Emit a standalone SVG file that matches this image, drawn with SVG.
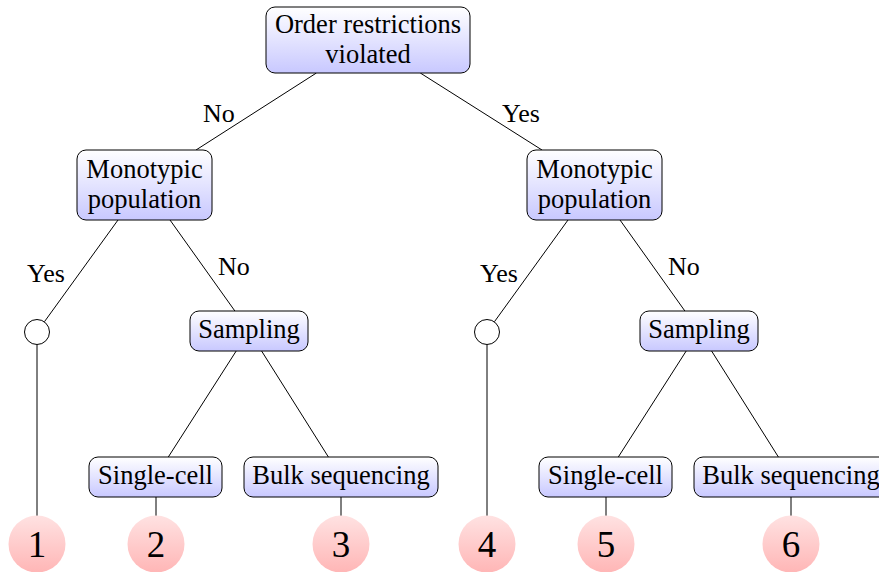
<svg xmlns="http://www.w3.org/2000/svg" width="879" height="572" viewBox="0 0 879 572">
<defs>
<linearGradient id="gb" x1="0" y1="0" x2="0" y2="1"><stop offset="0" stop-color="#ffffff"/><stop offset="1" stop-color="#c8c8ff"/></linearGradient>
<linearGradient id="gr" x1="0" y1="0" x2="0" y2="1"><stop offset="0" stop-color="#ffe2e2"/><stop offset="1" stop-color="#ffb6b6"/></linearGradient>
</defs>
<style>
.box{fill:url(#gb);stroke:#000;stroke-width:1}
.leaf{fill:url(#gr);stroke:none}
.t{font-family:"Liberation Serif",serif;font-size:26.5px;fill:#000;text-anchor:middle}
.n{font-family:"Liberation Serif",serif;font-size:37px;fill:#000;text-anchor:middle}
.l{font-family:"Liberation Serif",serif;font-size:26px;fill:#000}
.e{stroke:#000;stroke-width:1;fill:none}
</style>
<rect width="879" height="572" fill="#fff"/>
<g id="connectors">
<line class="e" x1="316.4" y1="73" x2="196" y2="150"/>
<line class="e" x1="420.3" y1="73" x2="542" y2="150"/>
<line class="e" x1="118" y1="220" x2="44.3" y2="321.9"/>
<line class="e" x1="170" y1="220" x2="234.9" y2="311"/>
<line class="e" x1="236.2" y1="351" x2="168.3" y2="457"/>
<line class="e" x1="261.6" y1="351" x2="328.4" y2="457"/>
<line class="e" x1="37" y1="344.5" x2="37" y2="516"/>
<line class="e" x1="156" y1="497" x2="156" y2="516"/>
<line class="e" x1="341" y1="497" x2="341" y2="516"/>
<line class="e" x1="568" y1="220" x2="494.3" y2="321.9"/>
<line class="e" x1="620" y1="220" x2="684.9" y2="311"/>
<line class="e" x1="686.2" y1="351" x2="618.3" y2="457"/>
<line class="e" x1="711.6" y1="351" x2="778.4" y2="457"/>
<line class="e" x1="487" y1="344.5" x2="487" y2="516"/>
<line class="e" x1="606" y1="497" x2="606" y2="516"/>
<line class="e" x1="791" y1="497" x2="791" y2="516"/>
<text class="l" x="203" y="122">No</text>
<text class="l" x="502" y="122">Yes</text>
<text class="l" x="27" y="282">Yes</text>
<text class="l" x="218" y="275">No</text>
<text class="l" x="480" y="282">Yes</text>
<text class="l" x="668" y="275">No</text>
</g>
<g id="root"><rect class="box" x="266" y="7" width="204" height="66" rx="9"/><text class="t" x="368" y="33">Order restrictions</text><text class="t" x="368" y="63">violated</text></g>
<g id="mono-left"><rect class="box" x="77" y="150" width="135" height="70" rx="9"/><text class="t" x="144.5" y="178">Monotypic</text><text class="t" x="144.5" y="208">population</text></g>
<g id="mono-right"><rect class="box" x="527" y="150" width="135" height="70" rx="9"/><text class="t" x="594.5" y="178">Monotypic</text><text class="t" x="594.5" y="208">population</text></g>
<g id="yes-left"><circle cx="37" cy="332" r="12.5" fill="#fff" stroke="#000" stroke-width="1"/></g>
<g id="yes-right"><circle cx="487" cy="332" r="12.5" fill="#fff" stroke="#000" stroke-width="1"/></g>
<g id="sampling-left"><rect class="box" x="190" y="311" width="118" height="40" rx="9"/><text class="t" x="249" y="338">Sampling</text></g>
<g id="sampling-right"><rect class="box" x="640" y="311" width="118" height="40" rx="9"/><text class="t" x="699" y="338">Sampling</text></g>
<g id="single-left"><rect class="box" x="89" y="457" width="133" height="40" rx="9"/><text class="t" x="155.5" y="484">Single-cell</text></g>
<g id="bulk-left"><rect class="box" x="244" y="457" width="194" height="40" rx="9"/><text class="t" x="341" y="484">Bulk sequencing</text></g>
<g id="single-right"><rect class="box" x="539" y="457" width="133" height="40" rx="9"/><text class="t" x="605.5" y="484">Single-cell</text></g>
<g id="bulk-right"><rect class="box" x="694" y="457" width="194" height="40" rx="9"/><text class="t" x="791" y="484">Bulk sequencing</text></g>
<g id="leaf1"><circle class="leaf" cx="37" cy="544" r="28.5"/><text class="n" x="37" y="557">1</text></g>
<g id="leaf2"><circle class="leaf" cx="156" cy="544" r="28.5"/><text class="n" x="156" y="557">2</text></g>
<g id="leaf3"><circle class="leaf" cx="341" cy="544" r="28.5"/><text class="n" x="341" y="557">3</text></g>
<g id="leaf4"><circle class="leaf" cx="487" cy="544" r="28.5"/><text class="n" x="487" y="557">4</text></g>
<g id="leaf5"><circle class="leaf" cx="606" cy="544" r="28.5"/><text class="n" x="606" y="557">5</text></g>
<g id="leaf6"><circle class="leaf" cx="791" cy="544" r="28.5"/><text class="n" x="791" y="557">6</text></g>
</svg>
